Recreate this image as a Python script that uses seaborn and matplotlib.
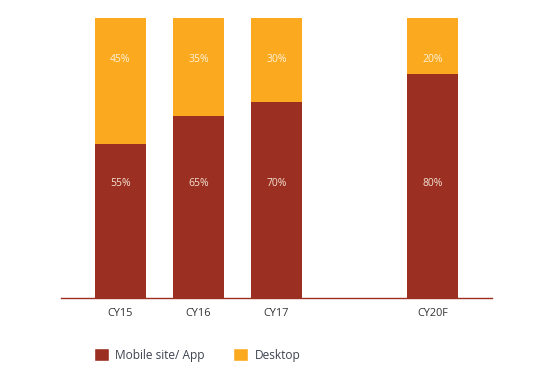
import matplotlib
matplotlib.use("Agg")
import matplotlib.pyplot as plt
import seaborn as sns
import pandas as pd
from matplotlib.patches import Patch

# data
years = ["CY15", "CY16", "CY17", "CY20F"]
mobile = [55, 65, 70, 80]
desktop = [45, 35, 30, 20]
order = ["CY15", "CY16", "CY17", " ", "CY20F"]  # blank slot for the gap

MOBILE_C = "#9b2f21"
DESKTOP_C = "#fbaa1f"

sns.set_theme(style="white")
plt.rcParams["font.family"] = ["Open Sans", "DejaVu Sans"]

df = pd.DataFrame({"year": years, "mobile": mobile, "desktop": desktop})
df["total"] = df["mobile"] + df["desktop"]

fig = plt.figure(figsize=(5.58, 3.79), dpi=100)
ax = fig.add_axes([61 / 558, 81 / 379, 431 / 558, 280 / 379])

sns.barplot(data=df, x="year", y="total", order=order, color=DESKTOP_C,
            width=0.654, saturation=1, linewidth=0, ax=ax)
sns.barplot(data=df, x="year", y="mobile", order=order, color=MOBILE_C,
            width=0.654, saturation=1, linewidth=0, ax=ax)

# percentage labels sit at fixed heights in the reference
for i, yr in enumerate(years):
    xpos = order.index(yr)
    ax.text(xpos, 40.8, f"{mobile[i]}%", ha="center", va="center",
            color="#f3e3d3", fontsize=7.5)
    ax.text(xpos, 85.2, f"{desktop[i]}%", ha="center", va="center",
            color="#fdf0d8", fontsize=7.5)

ax.set_xlim(-0.763, 4.763)
ax.set_ylim(0, 100)
ax.set_xlabel("")
ax.set_ylabel("")
ax.set_yticks([])
ax.tick_params(axis="x", length=0, pad=7, labelsize=7.8, labelcolor="#333333")
for s in ["top", "right", "left"]:
    ax.spines[s].set_visible(False)
ax.spines["bottom"].set_color(MOBILE_C)
ax.spines["bottom"].set_linewidth(1.0)

handles = [Patch(facecolor=MOBILE_C, label="Mobile site/ App"),
           Patch(facecolor=DESKTOP_C, label="Desktop")]
fig.legend(handles=handles, loc="center left", bbox_to_anchor=(83 / 558, 1 - 355 / 379),
           ncol=2, frameon=False, fontsize=8.6, handlelength=1.25, handleheight=1.25,
           columnspacing=2.4, handletextpad=0.55, labelcolor="#3d4450")

fig.savefig("out.png", dpi=100)
